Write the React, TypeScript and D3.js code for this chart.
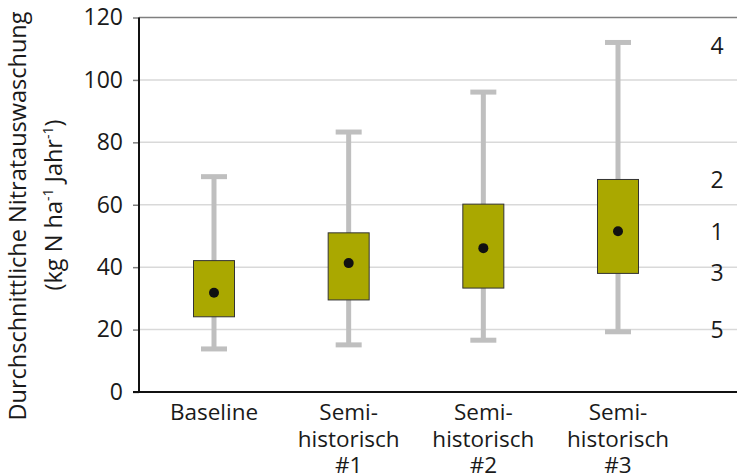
import { useEffect, useRef } from "react";
import * as d3 from "d3";

// categories (x-axis), one label line per array entry
const categories = ["Baseline", "Semi-historisch #1", "Semi-historisch #2", "Semi-historisch #3"];
const categoryLines = [["Baseline"], ["Semi-", "historisch", "#1"], ["Semi-", "historisch", "#2"], ["Semi-", "historisch", "#3"]];

// box statistics, kg N / ha / Jahr
const whiskerMin = [13.8, 15.1, 16.6, 19.3];
const boxLow = [24.1, 29.5, 33.3, 38.0];
const meanValues = [31.8, 41.3, 46.1, 51.5];
const boxHigh = [42.1, 51.0, 60.2, 68.1];
const whiskerMax = [69.0, 83.3, 96.1, 112.0];

const yTicks = [0, 20, 40, 60, 80, 100, 120];

// numbered annotations on the right, next to the last box
const noteLabels = ["4", "2", "1", "3", "5"];
const noteValues = [110.9, 67.9, 51.4, 38.0, 19.9];

const FONT = "'Open Sans', sans-serif";

const App = () => {
  const svgRef = useRef<SVGSVGElement>(null);

  useEffect(() => {
    const svg = d3.select(svgRef.current);
    svg.selectAll("*").remove();

    const width = 737;
    const height = 474;
    const margin = { top: 17.5, right: 0, bottom: 82, left: 139 };

    svg.attr("width", width).attr("height", height);

    const y = d3.scaleLinear().domain([0, 120]).range([height - margin.bottom, margin.top]);
    const x = d3.scalePoint<string>().domain(categories).range([214, 618]);

    // gridlines
    svg
      .append("g")
      .selectAll("line")
      .data(yTicks.filter((t) => t > 0))
      .join("line")
      .attr("x1", margin.left)
      .attr("x2", width)
      .attr("y1", (d) => y(d))
      .attr("y2", (d) => y(d))
      .attr("stroke", (d) => (d === 120 ? "#7f7f7f" : "#d9d9d9"))
      .attr("stroke-width", 1.5);

    // y axis
    const yAxis = d3.axisLeft(y).tickValues(yTicks).tickSize(6).tickPadding(10);
    const gy = svg.append("g").attr("transform", `translate(${margin.left},0)`).call(yAxis);
    gy.select(".domain").remove();
    gy.selectAll(".tick line").attr("stroke", "#7f7f7f").attr("stroke-width", 1.5);
    gy.selectAll(".tick text")
      .attr("fill", "#1a1a1a")
      .style("font-family", FONT)
      .style("font-size", "23px");

    svg
      .append("line")
      .attr("x1", margin.left)
      .attr("x2", margin.left)
      .attr("y1", margin.top)
      .attr("y2", y(0))
      .attr("stroke", "#111")
      .attr("stroke-width", 2);

    svg
      .append("line")
      .attr("x1", margin.left - 6)
      .attr("x2", width)
      .attr("y1", y(0))
      .attr("y2", y(0))
      .attr("stroke", "#111")
      .attr("stroke-width", 2);

    // boxes
    const boxW = 41;
    const capW = 26;
    const g = svg
      .append("g")
      .selectAll("g")
      .data(categories.map((c, i) => ({ c, i })))
      .join("g")
      .attr("transform", (d) => `translate(${x(d.c)},0)`);

    g.append("line")
      .attr("x1", 0)
      .attr("x2", 0)
      .attr("y1", (d) => y(whiskerMin[d.i]))
      .attr("y2", (d) => y(whiskerMax[d.i]))
      .attr("stroke", "#bfbfbf")
      .attr("stroke-width", 5);

    [whiskerMin, whiskerMax].forEach((arr) => {
      g.append("line")
        .attr("x1", -capW / 2)
        .attr("x2", capW / 2)
        .attr("y1", (d) => y(arr[d.i]))
        .attr("y2", (d) => y(arr[d.i]))
        .attr("stroke", "#bfbfbf")
        .attr("stroke-width", 5);
    });

    g.append("rect")
      .attr("x", -boxW / 2)
      .attr("width", boxW)
      .attr("y", (d) => y(boxHigh[d.i]))
      .attr("height", (d) => y(boxLow[d.i]) - y(boxHigh[d.i]))
      .attr("fill", "#aaa800")
      .attr("stroke", "#333")
      .attr("stroke-width", 1);

    g.append("circle")
      .attr("cx", 0)
      .attr("cy", (d) => y(meanValues[d.i]))
      .attr("r", 5)
      .attr("fill", "#111");

    // category labels
    g.append("text")
      .attr("text-anchor", "middle")
      .style("font-family", FONT)
      .style("font-size", "22.5px")
      .attr("fill", "#1a1a1a")
      .selectAll("tspan")
      .data((d) => categoryLines[d.i])
      .join("tspan")
      .attr("x", 0)
      .attr("y", (_, j) => 420 + j * 26.5)
      .text((t) => t);

    // right-hand annotations
    svg
      .append("g")
      .selectAll("text")
      .data(noteLabels.map((l, i) => ({ l, v: noteValues[i] })))
      .join("text")
      .attr("x", 717)
      .attr("y", (d) => y(d.v))
      .attr("dy", "0.35em")
      .attr("text-anchor", "middle")
      .attr("fill", "#1a1a1a")
      .style("font-family", FONT)
      .style("font-size", "23px")
      .text((d) => d.l);

    // y axis title
    svg
      .append("text")
      .attr("transform", "translate(26,216) rotate(-90)")
      .attr("text-anchor", "middle")
      .attr("fill", "#1a1a1a")
      .style("font-family", FONT)
      .style("font-size", "23.5px")
      .text("Durchschnittliche Nitratauswaschung");

    const t2 = svg
      .append("text")
      .attr("transform", "translate(62,205) rotate(-90)")
      .attr("text-anchor", "middle")
      .attr("fill", "#1a1a1a")
      .style("font-family", FONT)
      .style("font-size", "23.5px");
    t2.append("tspan").text("(kg N ha");
    t2.append("tspan").attr("baseline-shift", "super").style("font-size", "14px").text("-1");
    t2.append("tspan").text(" Jahr");
    t2.append("tspan").attr("baseline-shift", "super").style("font-size", "14px").text("-1");
    t2.append("tspan").text(")");
  }, []);

  return <svg ref={svgRef} style={{ position: "absolute", left: 0, top: 0 }} />;
};

export default App;
